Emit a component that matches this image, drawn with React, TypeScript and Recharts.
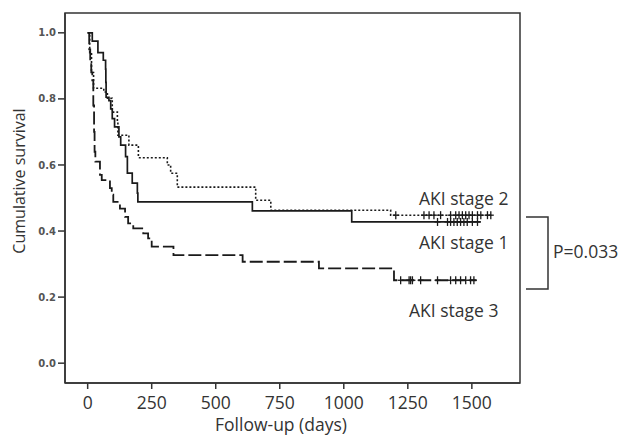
import {
  ComposedChart,
  Line,
  ReferenceArea,
  Scatter,
  XAxis,
  YAxis,
} from "recharts";

// Kaplan-Meier step curves: day of each event and survival after it
const stage1Days = [0, 18, 40, 61, 70, 71, 72, 83, 90, 96, 105, 122, 129, 148, 155, 174, 194, 196, 643, 1031, 1535];
const stage1Surv = [1.0, 0.975, 0.94, 0.917, 0.89, 0.85, 0.805, 0.795, 0.77, 0.74, 0.715, 0.685, 0.66, 0.625, 0.575, 0.545, 0.515, 0.488, 0.461, 0.4275, 0.4275];

const stage2Days = [0, 8, 15, 23, 63, 77, 96, 116, 118, 161, 198, 311, 324, 350, 656, 715, 1183, 1582];
const stage2Surv = [1.0, 0.94, 0.88, 0.832, 0.821, 0.802, 0.76, 0.73, 0.69, 0.66, 0.622, 0.6, 0.575, 0.533, 0.493, 0.463, 0.448, 0.448];

const stage3Days = [0, 6, 10, 14, 18, 22, 25, 27, 30, 48, 55, 87, 94, 100, 126, 146, 158, 178, 217, 236, 250, 335, 605, 903, 1196, 1518];
const stage3Surv = [1.0, 0.95, 0.91, 0.88, 0.856, 0.78, 0.7, 0.64, 0.61, 0.57, 0.554, 0.53, 0.51, 0.488, 0.468, 0.443, 0.423, 0.408, 0.393, 0.378, 0.353, 0.327, 0.307, 0.287, 0.251, 0.251];

// censored observations (days)
const stage1Censored = [1366, 1405, 1417, 1430, 1443, 1456, 1469, 1482, 1502, 1522];
const stage2Censored = [1203, 1313, 1333, 1352, 1378, 1417, 1437, 1450, 1463, 1476, 1489, 1502, 1522, 1535, 1561, 1574];
const stage3Censored = [1222, 1255, 1261, 1268, 1300, 1366, 1417, 1437, 1456, 1476, 1495, 1508];

const xTicks = [0, 250, 500, 750, 1000, 1250, 1500];
const yTicks = [0, 0.2, 0.4, 0.6, 0.8, 1.0];

const INK = "#1a1a1a";
const FONT = "'Open Sans', 'Noto Sans', sans-serif";

const toRows = (days: number[], surv: number[]) =>
  days.map((d, i) => ({ day: d, s: surv[i] }));

// survival level of a step curve at a given day
const levelAt = (days: number[], surv: number[], d: number) => {
  let v = surv[0];
  days.forEach((t, i) => {
    if (t <= d) v = surv[i];
  });
  return v;
};

const censorRows = (days: number[], surv: number[], cens: number[]) =>
  cens.map((d) => ({ day: d, s: levelAt(days, surv, d) }));

const Plus = (props: any) => {
  const { cx, cy } = props;
  return (
    <g stroke={INK} strokeWidth={1.3}>
      <line x1={cx} x2={cx} y1={cy - 4} y2={cy + 4} />
      <line x1={cx - 3} x2={cx + 3} y1={cy} y2={cy} />
    </g>
  );
};

export default function App() {
  const txt = { fontFamily: FONT, fontSize: 17.5, fill: "#333" };
  return (
    <div style={{ position: "absolute", left: 0, top: 0, width: 619, height: 436, background: "#fff" }}>
      <ComposedChart width={619} height={436} margin={{ top: 13, right: 99, bottom: 0, left: 0 }}>
        <XAxis
          dataKey="day"
          type="number"
          domain={[-88.5, 1688]}
          ticks={xTicks}
          allowDataOverflow
          height={53}
          stroke="#333"
          strokeWidth={1.5}
          tickSize={6}
          tickMargin={8}
          tick={{ fontFamily: FONT, fontSize: 17.5, fill: "#333" }}
        />
        <YAxis
          type="number"
          domain={[-0.06, 1.06]}
          ticks={yTicks}
          allowDataOverflow
          width={65}
          stroke="#333"
          strokeWidth={1.5}
          tickSize={7}
          tickMargin={2}
          tickFormatter={(v: number) => v.toFixed(1)}
          tick={{ fontFamily: "'DejaVu Sans', sans-serif", fontSize: 10, fontWeight: "bold", fill: "#555" }}
        />
        <ReferenceArea
          x1={-88.5}
          x2={1688}
          y1={-0.06}
          y2={1.06}
          fill="none"
          stroke="#333"
          strokeWidth={1.5}
          fillOpacity={0}
          ifOverflow="visible"
        />
        <Line
          data={toRows(stage3Days, stage3Surv)}
          dataKey="s"
          type="stepAfter"
          stroke={INK}
          strokeWidth={1.8}
          strokeDasharray="13 4"
          dot={false}
          isAnimationActive={false}
        />
        <Line
          data={toRows(stage2Days, stage2Surv)}
          dataKey="s"
          type="stepAfter"
          stroke={INK}
          strokeWidth={1.6}
          strokeDasharray="2 2"
          dot={false}
          isAnimationActive={false}
        />
        <Line
          data={toRows(stage1Days, stage1Surv)}
          dataKey="s"
          type="stepAfter"
          stroke={INK}
          strokeWidth={1.7}
          dot={false}
          isAnimationActive={false}
        />
        <Scatter data={censorRows(stage1Days, stage1Surv, stage1Censored)} dataKey="s" shape={Plus} isAnimationActive={false} />
        <Scatter data={censorRows(stage2Days, stage2Surv, stage2Censored)} dataKey="s" shape={Plus} isAnimationActive={false} />
        <Scatter data={censorRows(stage3Days, stage3Surv, stage3Censored)} dataKey="s" shape={Plus} isAnimationActive={false} />
      </ComposedChart>
      <svg width={619} height={436} style={{ position: "absolute", left: 0, top: 0, pointerEvents: "none" }}>
        <text {...txt} fontSize={16} x={19} y={181} textAnchor="middle" dominantBaseline="central" transform="rotate(-90 19 181)">
          Cumulative survival
        </text>
        <text {...txt} x={281} y={424} textAnchor="middle" dominantBaseline="central">
          Follow-up (days)
        </text>
        <text {...txt} x={419} y={198} dominantBaseline="central">AKI stage 2</text>
        <text {...txt} x={419} y={242} dominantBaseline="central">AKI stage 1</text>
        <text {...txt} x={409} y={310} dominantBaseline="central">AKI stage 3</text>
        <path d="M526 217 H548 V289 H526" fill="none" stroke="#333" strokeWidth={1.5} />
        <text {...txt} x={553} y={251} dominantBaseline="central">P=0.033</text>
      </svg>
    </div>
  );
}
